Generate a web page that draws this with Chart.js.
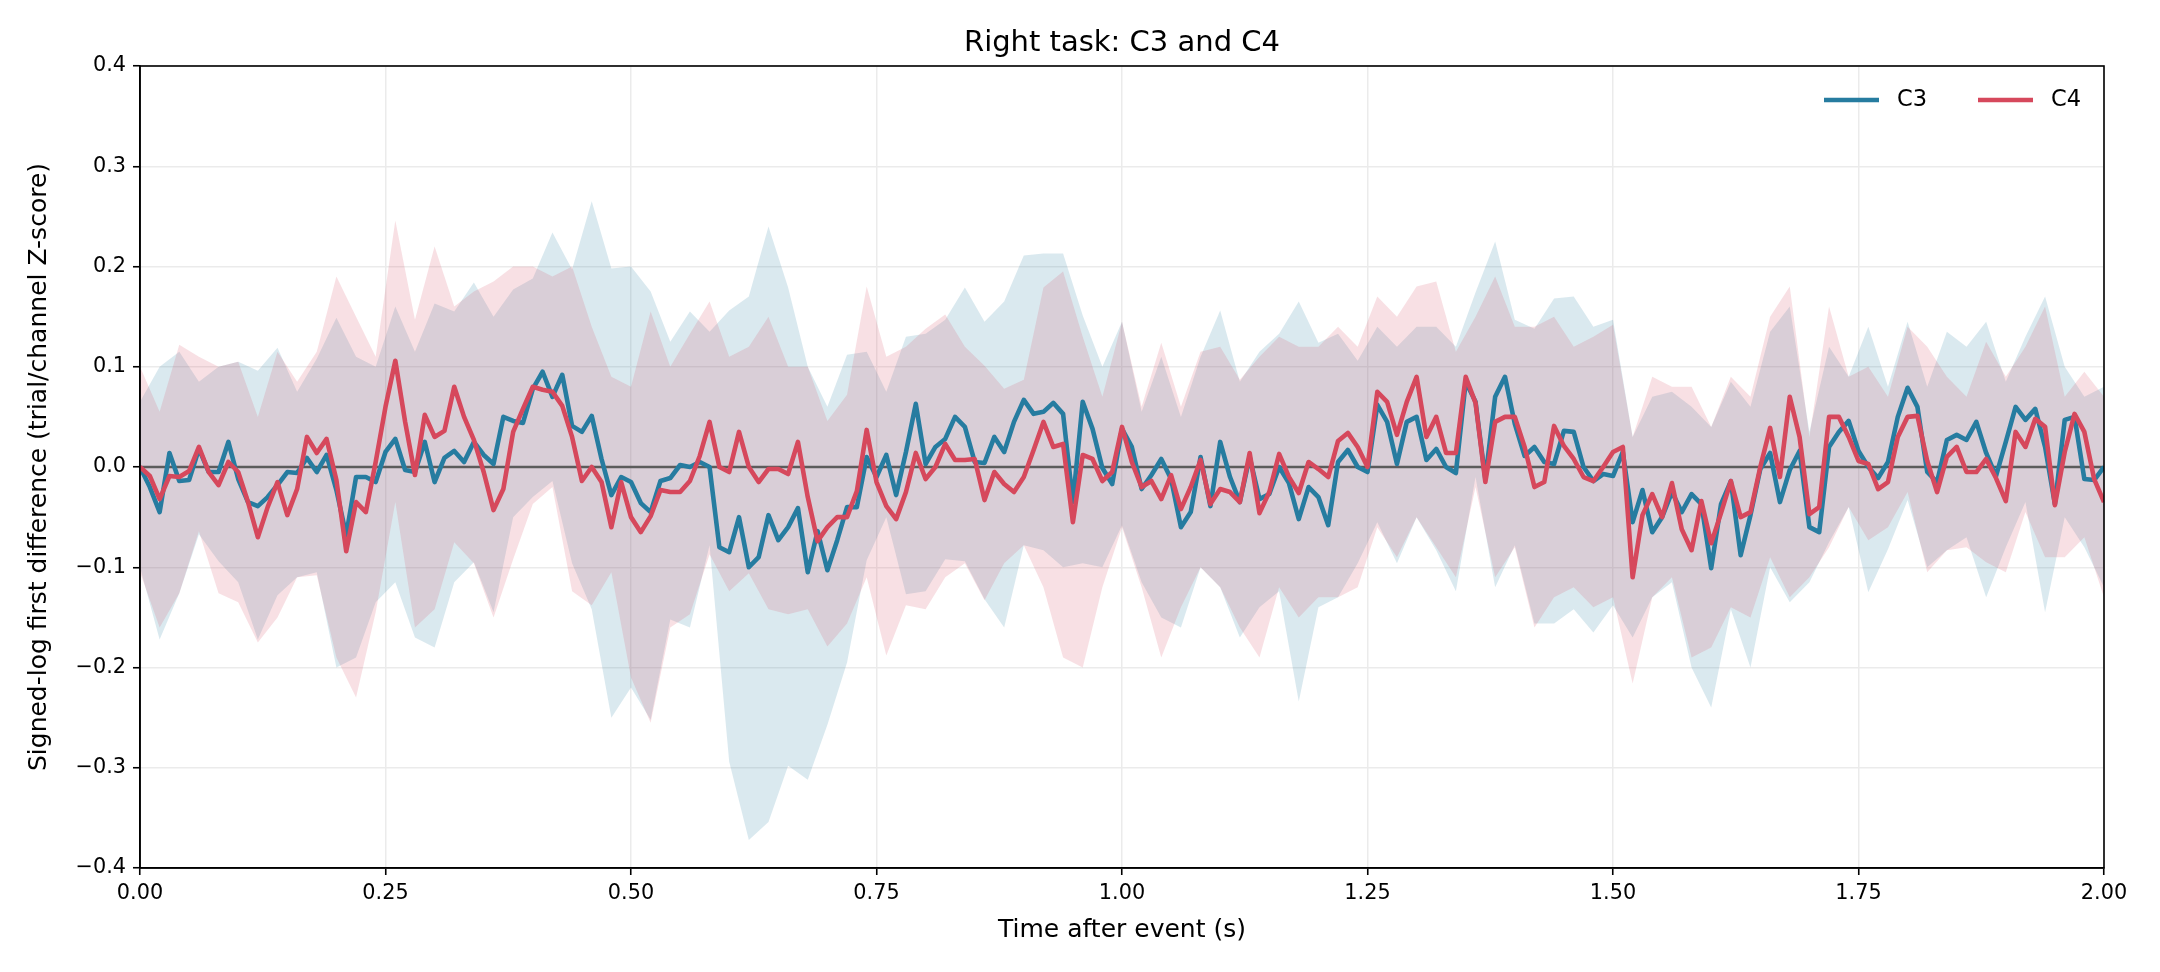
<!DOCTYPE html>
<html>
<head>
<meta charset="utf-8">
<title>Right task: C3 and C4</title>
<script src="https://cdn.jsdelivr.net/npm/chart.js@4.4.1/dist/chart.umd.min.js"></script>
<style>
  html, body { margin: 0; padding: 0; background: #fff; }
  canvas { display: block; }
</style>
</head>
<body>
<canvas id="chart" width="2160" height="972"></canvas>
<script>
// mean traces, one value every 0.01 s from 0.00 to 2.00
const c3Mean = [
    0.000, -0.020, -0.045, 0.014, -0.014, -0.013, 0.018, -0.005, -0.005, 0.025,
    -0.012, -0.035, -0.039, -0.030, -0.018, -0.005, -0.006, 0.009, -0.005, 0.012,
    -0.023, -0.068, -0.010, -0.010, -0.015, 0.015, 0.028, -0.003, -0.005, 0.025,
    -0.015, 0.009, 0.016, 0.005, 0.025, 0.012, 0.003, 0.050, 0.046, 0.044,
    0.078, 0.095, 0.070, 0.092, 0.041, 0.035, 0.051, 0.008, -0.028, -0.010,
    -0.015, -0.036, -0.045, -0.014, -0.011, 0.002, 0.000, 0.005, 0.000, -0.080,
    -0.085, -0.050, -0.100, -0.090, -0.048, -0.073, -0.060, -0.041, -0.105, -0.064,
    -0.103, -0.073, -0.040, -0.040, 0.010, -0.010, 0.012, -0.028, 0.015, 0.063,
    0.003, 0.020, 0.028, 0.050, 0.040, 0.005, 0.004, 0.030, 0.015, 0.045,
    0.067, 0.053, 0.055, 0.064, 0.053, -0.035, 0.065, 0.038, -0.001, -0.017,
    0.038, 0.020, -0.022, -0.008, 0.008, -0.012, -0.060, -0.045, 0.010, -0.039,
    0.025, -0.010, -0.035, 0.010, -0.032, -0.027, 0.000, -0.016, -0.052, -0.020,
    -0.030, -0.058, 0.005, 0.017, 0.000, -0.005, 0.062, 0.045, 0.003, 0.045,
    0.050, 0.007, 0.018, 0.000, -0.006, 0.085, 0.065, -0.012, 0.070, 0.090,
    0.043, 0.011, 0.020, 0.005, 0.003, 0.036, 0.035, 0.000, -0.014, -0.007,
    -0.009, 0.015, -0.055, -0.023, -0.065, -0.050, -0.025, -0.045, -0.027, -0.037,
    -0.101, -0.037, -0.014, -0.088, -0.048, -0.002, 0.014, -0.035, -0.003, 0.016,
    -0.060, -0.065, 0.020, 0.035, 0.046, 0.016, 0.000, -0.011, 0.005, 0.050,
    0.079, 0.060, -0.005, -0.015, 0.027, 0.032, 0.027, 0.045, 0.014, -0.009,
    0.025, 0.060, 0.047, 0.058, 0.020, -0.037, 0.047, 0.050, -0.012, -0.013,
    0.000
];
const c4Mean = [
    0.000, -0.009, -0.032, -0.009, -0.010, -0.004, 0.020, -0.005, -0.018, 0.005,
    -0.005, -0.035, -0.070, -0.040, -0.015, -0.048, -0.022, 0.030, 0.014, 0.028,
    -0.013, -0.084, -0.035, -0.045, 0.005, 0.060, 0.106, 0.045, -0.008, 0.052,
    0.030, 0.036, 0.080, 0.050, 0.027, -0.005, -0.043, -0.022, 0.035, 0.058,
    0.080, 0.077, 0.075, 0.061, 0.030, -0.014, 0.000, -0.015, -0.060, -0.015,
    -0.050, -0.065, -0.049, -0.023, -0.025, -0.025, -0.014, 0.011, 0.045, 0.000,
    -0.005, 0.035, 0.000, -0.015, -0.002, -0.002, -0.007, 0.025, -0.030, -0.074,
    -0.060, -0.050, -0.050, -0.024, 0.037, -0.015, -0.039, -0.052, -0.025, 0.014,
    -0.012, 0.000, 0.023, 0.007, 0.007, 0.008, -0.033, -0.005, -0.017, -0.025,
    -0.010, 0.017, 0.045, 0.020, 0.023, -0.055, 0.012, 0.008, -0.014, -0.005,
    0.040, 0.005, -0.020, -0.014, -0.032, -0.008, -0.042, -0.020, 0.007, -0.037,
    -0.022, -0.025, -0.035, 0.014, -0.046, -0.025, 0.013, -0.010, -0.026, 0.005,
    -0.002, -0.010, 0.026, 0.034, 0.020, 0.000, 0.075, 0.065, 0.032, 0.065,
    0.090, 0.030, 0.050, 0.014, 0.014, 0.090, 0.064, -0.015, 0.045, 0.050,
    0.050, 0.020, -0.020, -0.015, 0.041, 0.021, 0.008, -0.010, -0.014, 0.000,
    0.015, 0.020, -0.110, -0.048, -0.027, -0.050, -0.016, -0.062, -0.083, -0.034,
    -0.076, -0.046, -0.014, -0.050, -0.045, 0.000, 0.039, -0.010, 0.070, 0.030,
    -0.047, -0.040, 0.050, 0.050, 0.030, 0.006, 0.003, -0.022, -0.015, 0.030,
    0.050, 0.051, 0.006, -0.025, 0.010, 0.020, -0.005, -0.005, 0.008, -0.011,
    -0.034, 0.035, 0.020, 0.048, 0.040, -0.038, 0.015, 0.053, 0.035, -0.012,
    -0.035
];

// shaded bands, one value every 0.02 s
const c3Upper = [
    0.065, 0.100, 0.115, 0.085, 0.100, 0.105, 0.096, 0.119, 0.075, 0.108,
    0.149, 0.110, 0.100, 0.160, 0.115, 0.163, 0.155, 0.184, 0.150, 0.177,
    0.188, 0.234, 0.197, 0.265, 0.198, 0.200, 0.175, 0.125, 0.155, 0.135,
    0.156, 0.170, 0.240, 0.179, 0.100, 0.060, 0.112, 0.115, 0.075, 0.130,
    0.133, 0.147, 0.179, 0.145, 0.165, 0.211, 0.213, 0.213, 0.151, 0.100,
    0.145, 0.055, 0.110, 0.050, 0.110, 0.156, 0.085, 0.115, 0.133, 0.165,
    0.124, 0.133, 0.106, 0.140, 0.120, 0.140, 0.140, 0.120, 0.174, 0.225,
    0.147, 0.138, 0.168, 0.170, 0.140, 0.147, 0.030, 0.070, 0.075, 0.060,
    0.040, 0.085, 0.060, 0.135, 0.160, 0.035, 0.120, 0.090, 0.140, 0.080,
    0.145, 0.080, 0.135, 0.120, 0.145, 0.085, 0.130, 0.170, 0.100, 0.070,
    0.080
];
const c3Lower = [
    -0.100, -0.172, -0.126, -0.067, -0.094, -0.115, -0.172, -0.128, -0.110, -0.105,
    -0.200, -0.190, -0.135, -0.115, -0.170, -0.180, -0.115, -0.095, -0.145, -0.050,
    -0.030, -0.014, -0.096, -0.142, -0.250, -0.220, -0.252, -0.152, -0.160, -0.078,
    -0.294, -0.372, -0.354, -0.298, -0.312, -0.257, -0.195, -0.093, -0.050, -0.127,
    -0.124, -0.092, -0.094, -0.132, -0.160, -0.078, -0.083, -0.100, -0.096, -0.100,
    -0.058, -0.115, -0.150, -0.160, -0.100, -0.120, -0.170, -0.140, -0.124, -0.234,
    -0.140, -0.130, -0.096, -0.055, -0.096, -0.050, -0.083, -0.124, -0.010, -0.120,
    -0.078, -0.156, -0.156, -0.142, -0.165, -0.138, -0.170, -0.130, -0.115, -0.200,
    -0.240, -0.142, -0.200, -0.100, -0.135, -0.115, -0.075, -0.040, -0.125, -0.082,
    -0.033, -0.100, -0.083, -0.070, -0.130, -0.080, -0.035, -0.145, -0.050, -0.080,
    -0.120
];
const c4Upper = [
    0.100, 0.055, 0.122, 0.110, 0.100, 0.105, 0.050, 0.115, 0.085, 0.115,
    0.190, 0.150, 0.110, 0.246, 0.147, 0.220, 0.160, 0.175, 0.185, 0.200,
    0.200, 0.190, 0.200, 0.140, 0.090, 0.080, 0.155, 0.100, 0.133, 0.165,
    0.110, 0.120, 0.150, 0.100, 0.100, 0.046, 0.072, 0.180, 0.110, 0.120,
    0.138, 0.152, 0.120, 0.101, 0.078, 0.087, 0.179, 0.195, 0.130, 0.070,
    0.145, 0.060, 0.124, 0.060, 0.115, 0.120, 0.087, 0.110, 0.130, 0.120,
    0.120, 0.140, 0.120, 0.170, 0.150, 0.180, 0.185, 0.115, 0.150, 0.190,
    0.140, 0.140, 0.150, 0.120, 0.130, 0.142, 0.030, 0.090, 0.080, 0.080,
    0.040, 0.090, 0.070, 0.150, 0.180, 0.030, 0.160, 0.090, 0.100, 0.070,
    0.140, 0.120, 0.090, 0.070, 0.125, 0.090, 0.120, 0.160, 0.070, 0.095,
    0.070
];
const c4Lower = [
    -0.105, -0.160, -0.126, -0.064, -0.126, -0.135, -0.175, -0.150, -0.110, -0.108,
    -0.190, -0.230, -0.145, -0.035, -0.160, -0.142, -0.075, -0.096, -0.150, -0.092,
    -0.037, -0.020, -0.124, -0.138, -0.105, -0.210, -0.255, -0.160, -0.147, -0.087,
    -0.124, -0.106, -0.142, -0.147, -0.142, -0.179, -0.156, -0.110, -0.188, -0.138,
    -0.142, -0.110, -0.096, -0.133, -0.096, -0.078, -0.120, -0.190, -0.200, -0.120,
    -0.060, -0.120, -0.190, -0.140, -0.100, -0.120, -0.160, -0.190, -0.120, -0.150,
    -0.130, -0.130, -0.120, -0.060, -0.090, -0.050, -0.080, -0.110, -0.020, -0.110,
    -0.080, -0.160, -0.130, -0.120, -0.140, -0.130, -0.216, -0.130, -0.110, -0.190,
    -0.180, -0.140, -0.150, -0.090, -0.130, -0.110, -0.080, -0.040, -0.073, -0.060,
    -0.025, -0.105, -0.083, -0.080, -0.095, -0.105, -0.045, -0.090, -0.090, -0.070,
    -0.130
];

const seriesNames = ['C3', 'C4'];
const meanStep = 0.01;
const bandStep = 0.02;
const xRange = [0, 2];
const yRange = [-0.4, 0.4];

const warnaC3 = '#267ca0';
const warnaC4 = '#d6485c';
const fontFamily = '"DejaVu Sans", sans-serif';

function toPoints(values, step) {
    return values.map((v, i) => ({ x: +(i * step).toFixed(2), y: v }));
}

const bandStyle = { borderWidth: 0, borderColor: 'transparent', pointRadius: 0, tension: 0 };

const decorPlugin = {
    id: 'decor',
    afterDatasetsDraw(chart) {
        const { ctx, chartArea: a } = chart;
        ctx.save();
        ctx.strokeStyle = '#000';
        ctx.lineWidth = 1.6;
        ctx.strokeRect(a.left, a.top, a.right - a.left, a.bottom - a.top);
        ctx.restore();
    },
    afterDraw(chart) {
        const { ctx, chartArea: a } = chart;
        const midX = (a.left + a.right) / 2;
        const midY = (a.top + a.bottom) / 2;
        ctx.save();
        ctx.fillStyle = '#000';
        ctx.textAlign = 'center';
        ctx.textBaseline = 'middle';

        ctx.font = '29px ' + fontFamily;
        ctx.fillText('Right task: C3 and C4', midX, 43);

        ctx.font = '25px ' + fontFamily;
        ctx.fillText('Time after event (s)', midX, 930);

        ctx.save();
        ctx.translate(39, midY);
        ctx.rotate(-Math.PI / 2);
        ctx.fillText('Signed-log first difference (trial/channel Z-score)', 0, 0);
        ctx.restore();

        // legend, top right, no frame
        const entries = [
            { label: seriesNames[0], color: warnaC3, x: a.right - 280 },
            { label: seriesNames[1], color: warnaC4, x: a.right - 126 }
        ];
        const ly = 100;
        ctx.textAlign = 'left';
        ctx.font = '22.5px ' + fontFamily;
        entries.forEach(e => {
            ctx.strokeStyle = e.color;
            ctx.lineWidth = 4.6;
            ctx.beginPath();
            ctx.moveTo(e.x, ly);
            ctx.lineTo(e.x + 55, ly);
            ctx.stroke();
            ctx.fillText(e.label, e.x + 73, ly);
        });
        ctx.restore();
    }
};

const ctx = document.getElementById('chart').getContext('2d');
const chart = new Chart(ctx, {
    type: 'line',
    data: {
        datasets: [
            { ...bandStyle, label: 'C3 upper', data: toPoints(c3Upper, bandStep), fill: 1, backgroundColor: 'rgba(38, 124, 160, 0.17)', order: 4 },
            { ...bandStyle, label: 'C3 lower', data: toPoints(c3Lower, bandStep), fill: false, order: 4 },
            { ...bandStyle, label: 'C4 upper', data: toPoints(c4Upper, bandStep), fill: 3, backgroundColor: 'rgba(214, 72, 92, 0.17)', order: 3 },
            { ...bandStyle, label: 'C4 lower', data: toPoints(c4Lower, bandStep), fill: false, order: 3 },
            { label: 'zero', data: [{ x: xRange[0], y: 0 }, { x: xRange[1], y: 0 }], borderColor: '#5c5c5c', borderWidth: 2.4, pointRadius: 0, fill: false, order: 2 },
            { label: seriesNames[0], data: toPoints(c3Mean, meanStep), borderColor: warnaC3, borderWidth: 4.6, borderJoinStyle: 'round', pointRadius: 0, tension: 0, fill: false, order: 1 },
            { label: seriesNames[1], data: toPoints(c4Mean, meanStep), borderColor: warnaC4, borderWidth: 4.6, borderJoinStyle: 'round', pointRadius: 0, tension: 0, fill: false, order: 0 }
        ]
    },
    options: {
        responsive: false,
        animation: false,
        devicePixelRatio: 1,
        layout: { padding: { top: 66, right: 56, left: 0, bottom: 0 } },
        plugins: {
            legend: { display: false },
            title: { display: false },
            tooltip: { enabled: false }
        },
        scales: {
            x: {
                type: 'linear',
                min: xRange[0], max: xRange[1],
                afterFit(scale) { scale.height = 104; },
                ticks: {
                    stepSize: 0.25, autoSkip: false, maxRotation: 0, padding: 6,
                    color: '#000', font: { family: fontFamily, size: 20.8 },
                    callback: v => v.toFixed(2)
                },
                grid: { color: '#ebebeb', lineWidth: 1.5, tickColor: '#000', tickLength: 7, tickWidth: 1.6 },
                border: { display: true, color: '#000', width: 1.6 }
            },
            y: {
                min: yRange[0], max: yRange[1],
                afterFit(scale) { scale.width = 140; },
                ticks: {
                    stepSize: 0.1, padding: 7,
                    color: '#000', font: { family: fontFamily, size: 20.8 },
                    callback: v => Math.abs(v) < 1e-9 ? '0.0' : v.toFixed(1).replace('-', '\u2212')
                },
                grid: { color: '#ebebeb', lineWidth: 1.5, tickColor: '#000', tickLength: 7, tickWidth: 1.6 },
                border: { display: true, color: '#000', width: 1.6 }
            }
        }
    },
    plugins: [decorPlugin]
});
</script>
</body>
</html>
